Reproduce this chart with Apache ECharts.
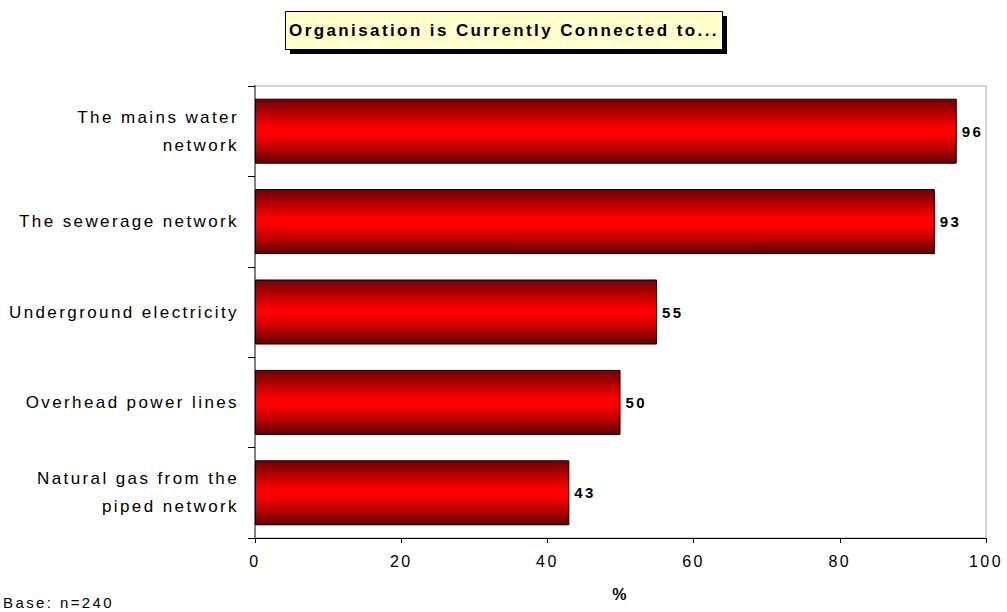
<!DOCTYPE html>
<html>
<head>
<meta charset="utf-8">
<script src="https://cdn.jsdelivr.net/npm/echarts@6/dist/echarts.min.js"></script>
<style>
  html, body { margin: 0; padding: 0; background: #fff; }
  #chart { width: 1007px; height: 612px; }
  /* Excel-style wide tracking on all chart text */
  #chart svg text { letter-spacing: 2.4px; }
</style>
</head>
<body>
<div id="chart"></div>
<script>
// Categories listed bottom-to-top (ECharts category y-axis starts at the bottom)
const categories = [
  'Natural gas from the\npiped network',
  'Overhead power lines',
  'Underground electricity',
  'The sewerage network',
  'The mains water\nnetwork'
];
const percentages = [43, 50, 55, 93, 96];
const xTicks = { min: 0, max: 100, interval: 20 };
const titleText = 'Organisation is Currently Connected to...';
const baseNote = 'Base: n=240';
const axisName = '%';

const FONT = 'Liberation Sans, Arial, sans-serif';

const chart = echarts.init(document.getElementById('chart'), null, { renderer: 'svg' });

const barGradient = new echarts.graphic.LinearGradient(0, 0, 0, 1, [
  { offset: 0, color: '#700000' },
  { offset: 0.2, color: '#b00000' },
  { offset: 0.45, color: '#ff0000' },
  { offset: 0.55, color: '#ff0000' },
  { offset: 0.8, color: '#b00000' },
  { offset: 1, color: '#600000' }
]);

chart.setOption({
  animation: false,
  backgroundColor: '#ffffff',
  textStyle: { fontFamily: FONT },
  grid: {
    left: 255, right: 21, top: 86, bottom: 74,
    show: true, borderColor: '#a6a6a6', borderWidth: 1,
    containLabel: false
  },
  xAxis: {
    type: 'value',
    min: xTicks.min, max: xTicks.max, interval: xTicks.interval,
    name: axisName,
    nameLocation: 'middle',
    nameGap: 48,
    nameTextStyle: { fontFamily: FONT, fontSize: 16, fontWeight: 'bold', color: '#000' },
    axisLine: { show: true, lineStyle: { color: '#000', width: 1 } },
    axisTick: { show: true, length: 5, lineStyle: { color: '#000' } },
    axisLabel: { fontFamily: FONT, fontSize: 16, color: '#000', margin: 15 },
    splitLine: { show: false }
  },
  yAxis: {
    type: 'category',
    data: categories,
    axisLine: { show: true, lineStyle: { color: '#808080', width: 2 } },
    axisTick: { show: true, length: 7, inside: false, lineStyle: { color: '#000' } },
    axisLabel: {
      fontFamily: FONT, fontSize: 17, color: '#000', margin: 16,
      lineHeight: 28, align: 'right'
    }
  },
  series: [{
    type: 'bar',
    data: percentages,
    barWidth: 65,
    itemStyle: { color: barGradient, borderColor: '#000', borderWidth: 1 },
    label: {
      show: true, position: 'right', distance: 5,
      fontFamily: FONT, fontSize: 15, fontWeight: 'bold', color: '#000'
    }
  }],
  graphic: [
    { type: 'rect', left: 290, top: 16, shape: { width: 437, height: 38 },
      style: { fill: '#000' }, z: 10 },
    { type: 'rect', left: 285, top: 11, shape: { width: 437, height: 38 },
      style: { fill: '#ffffcc', stroke: '#000', lineWidth: 1 }, z: 11 },
    { type: 'text', x: 504, y: 30, z: 12,
      style: { text: titleText, fontFamily: FONT, fontSize: 17, fontWeight: 'bold',
               fill: '#000', align: 'center', verticalAlign: 'middle' } },
    { type: 'text', left: 3, top: 595, z: 12,
      style: { text: baseNote, fontFamily: FONT, fontSize: 15, fill: '#000' } }
  ]
});
</script>
</body>
</html>
